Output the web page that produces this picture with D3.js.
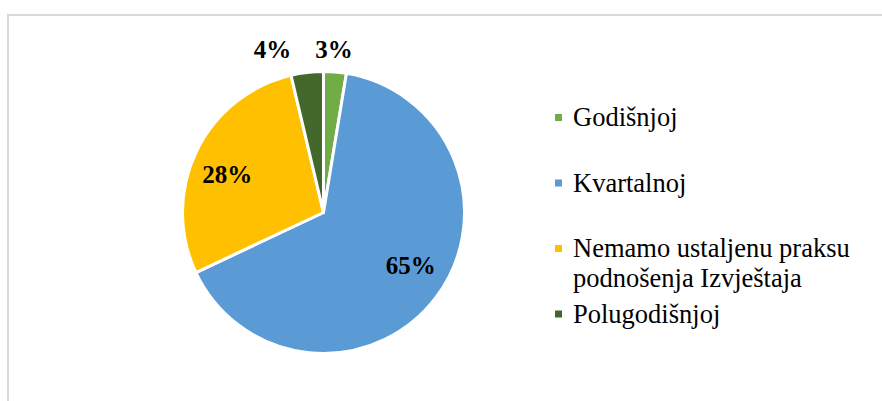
<!DOCTYPE html>
<html>
<head>
<meta charset="utf-8">
<script src="https://cdn.jsdelivr.net/npm/d3@7"></script>
<style>
	body { margin: 0; background: #fff; }
	svg { display: block; }
</style>
</head>
<body>
<div id="chart"></div>
<script>
// chart data
const categories = ["Godišnjoj", "Kvartalnoj", "Nemamo ustaljenu praksu podnošenja Izvještaja", "Polugodišnjoj"]
const legendLines = [["Godišnjoj"], ["Kvartalnoj"], ["Nemamo ustaljenu praksu", "podnošenja Izvještaja"], ["Polugodišnjoj"]]
const shares = [2.6, 65.4, 28.3, 3.7]
const colors = ["#70ad47", "#5b9bd5", "#ffc000", "#43682b"]

const width = 882
const height = 401
const cx = 323.5
const cy = 212.5
const r = 141

const svg = d3.select("#chart")
	.append("svg")
	.attr("width", width)
	.attr("height", height)

// chart area border (runs off the right and bottom edges)
svg.append("rect")
	.attr("x", 8)
	.attr("y", 15)
	.attr("width", 1000)
	.attr("height", 500)
	.attr("fill", "none")
	.attr("stroke", "#d9d9d9")
	.attr("stroke-width", 2)

const data = categories.map((c, i) => ({ name: c, value: shares[i], color: colors[i] }))

const pie = d3.pie()
	.sort(null)
	.value(d => d.value)

const arc = d3.arc()
	.innerRadius(0)
	.outerRadius(r)

const arcs = pie(data)

const g = svg.append("g")
	.attr("transform", `translate(${cx},${cy})`)

g.selectAll("path")
	.data(arcs)
	.enter()
	.append("path")
	.attr("d", arc)
	.attr("fill", d => d.data.color)
	.attr("stroke", "#fff")
	.attr("stroke-width", 3)
	.attr("stroke-linejoin", "round")

// data labels: inside for big slices, outside for the thin ones
const fmt = d => Math.round(d) + "%"
const labelPos = d => {
	// nudge a bit counter-clockwise, like the original's best-fit labels
	const mid = (d.startAngle + d.endAngle) / 2 - 5 * Math.PI / 180
	let rr
	if (d.data.value < 10) rr = r + 28
	else rr = r * 0.73
	let x = Math.sin(mid) * rr
	let y = -Math.cos(mid) * rr
	return [x, y]
}

g.selectAll("text.lbl")
	.data(arcs)
	.enter()
	.append("text")
	.attr("class", "lbl")
	.attr("x", (d, i) => {
		const p = labelPos(d)
		// thin top slices: labels sit side by side above the pie
		if (i === 0) return 10.5
		if (i === 3) return -51
		return p[0]
	})
	.attr("y", (d, i) => {
		const p = labelPos(d)
		if (i === 0 || i === 3) return -154.5
		return p[1] + 7
	})
	.attr("text-anchor", "middle")
	.style("font-family", "'Liberation Serif', 'Times New Roman', serif")
	.style("font-weight", "bold")
	.style("font-size", "25px")
	.style("fill", "#000")
	.text(d => fmt(d.data.value))

// legend
const legend = svg.append("g")
	.attr("transform", "translate(555,126)")

const rowStep = 65.5

const items = legend.selectAll("g")
	.data(data)
	.enter()
	.append("g")
	.attr("transform", (d, i) => `translate(0,${i * rowStep})`)

items.append("rect")
	.attr("x", 0)
	.attr("y", -12)
	.attr("width", 7)
	.attr("height", 7)
	.attr("fill", d => d.color)

items.append("text")
	.attr("x", 18)
	.attr("y", 0)
	.style("font-family", "'Liberation Serif', 'Times New Roman', serif")
	.style("font-size", "26.5px")
	.style("fill", "#000")
	.each(function (d, i) {
		const t = d3.select(this)
		legendLines[i].forEach((line, k) => {
			t.append("tspan")
				.attr("x", 18)
				.attr("dy", k === 0 ? 0 : 30)
				.text(line)
		})
	})
</script>
</body>
</html>
